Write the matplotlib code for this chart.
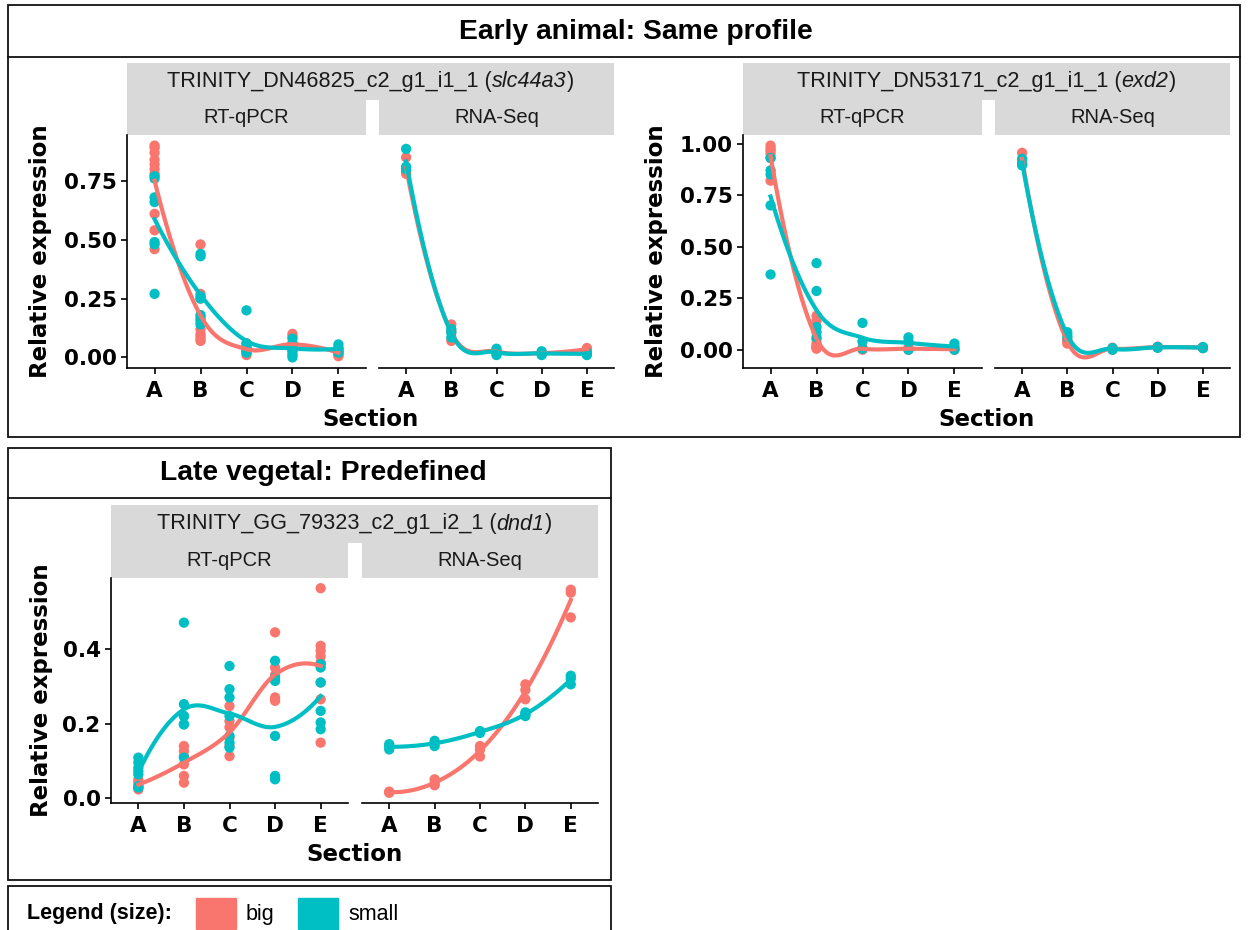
import numpy as np
import matplotlib
matplotlib.use("Agg")
import matplotlib.pyplot as plt
from matplotlib.patches import Rectangle
from matplotlib.lines import Line2D
from matplotlib.offsetbox import TextArea, HPacker, AnchoredOffsetbox

sections = ["A", "B", "C", "D", "E"]
methods = ["RT-qPCR", "RNA-Seq"]
groups = ["big", "small"]

# slc44a3 -- values per section A..E
slc_qpcr_big = [[0.90, 0.89, 0.87, 0.84, 0.82, 0.80, 0.78, 0.61, 0.54, 0.46],
                [0.48, 0.27, 0.25, 0.17, 0.15, 0.12, 0.10, 0.09, 0.08, 0.07],
                [0.06, 0.05, 0.04, 0.03, 0.02, 0.01],
                [0.10, 0.09, 0.06, 0.05, 0.04, 0.03, 0.02],
                [0.04, 0.03, 0.02, 0.015, 0.01, 0.005]]
slc_qpcr_small = [[0.77, 0.76, 0.68, 0.66, 0.49, 0.48, 0.27],
                  [0.44, 0.43, 0.26, 0.25, 0.18, 0.16, 0.14],
                  [0.20, 0.06, 0.04, 0.03, 0.02],
                  [0.08, 0.06, 0.05, 0.03, 0.01, 0.0],
                  [0.055, 0.04, 0.03, 0.02]]
slc_rna_big = [[0.85, 0.78, 0.79], [0.14, 0.07, 0.11], [0.03, 0.02, 0.025],
               [0.02, 0.015, 0.02], [0.04, 0.03, 0.035]]
slc_rna_small = [[0.886, 0.81, 0.80], [0.12, 0.105, 0.085], [0.037, 0.01, 0.02],
                 [0.026, 0.01, 0.015], [0.016, 0.01, 0.02]]

# exd2
exd_qpcr_big = [[0.99, 0.975, 0.965, 0.95, 0.93, 0.82],
                [0.165, 0.14, 0.05, 0.03, 0.02, 0.015, 0.01, 0.005],
                [0.0, 0.01, 0.005], [0.0, 0.01], [0.005, 0.0]]
exd_qpcr_small = [[0.93, 0.87, 0.85, 0.70, 0.365],
                  [0.42, 0.285, 0.11, 0.085, 0.06],
                  [0.13, 0.04, 0.005], [0.06, 0.04, 0.0], [0.03, 0.015, 0.0]]
exd_rna_big = [[0.955, 0.92, 0.90], [0.03, 0.05, 0.04], [0.005, 0.01, 0.0],
               [0.013, 0.01, 0.015], [0.01, 0.012, 0.008]]
exd_rna_small = [[0.926, 0.902, 0.894], [0.085, 0.06, 0.07], [0.008, 0.0, 0.005],
                 [0.013, 0.01, 0.012], [0.01, 0.013, 0.008]]

# dnd1
dnd_qpcr_big = [[0.042, 0.024, 0.03, 0.05],
                [0.14, 0.127, 0.113, 0.091, 0.06, 0.042],
                [0.247, 0.207, 0.19, 0.162, 0.14, 0.113],
                [0.444, 0.35, 0.33, 0.27, 0.261],
                [0.562, 0.408, 0.395, 0.38, 0.363, 0.31, 0.265, 0.149]]
dnd_qpcr_small = [[0.109, 0.096, 0.082, 0.073, 0.064, 0.033, 0.029],
                  [0.47, 0.252, 0.22, 0.22, 0.198, 0.198, 0.109],
                  [0.354, 0.292, 0.27, 0.22, 0.167, 0.149, 0.136],
                  [0.368, 0.323, 0.314, 0.167, 0.06, 0.055, 0.051],
                  [0.359, 0.35, 0.31, 0.234, 0.203, 0.185]]
dnd_rna_big = [[0.017, 0.015, 0.018], [0.051, 0.035, 0.04], [0.14, 0.112, 0.13],
               [0.305, 0.265, 0.29], [0.558, 0.55, 0.484]]
dnd_rna_small = [[0.145, 0.131, 0.138], [0.154, 0.14, 0.148], [0.178, 0.175, 0.18],
                 [0.225, 0.22, 0.23], [0.328, 0.305, 0.32]]

slc_ticks = [0.0, 0.25, 0.5, 0.75]
exd_ticks = [0.0, 0.25, 0.5, 0.75, 1.0]
dnd_ticks = [0.0, 0.2, 0.4]

RED = "#F8766D"
TEAL = "#00BFC4"
W, H = 1248, 930
TICK_FONT = dict(family="DejaVu Sans", weight="bold", size=15.5)
GENE_FONT = dict(family="Liberation Sans", size=15.6, color="#1A1A1A")
STRIP_FONT = dict(family="Liberation Sans", size=14.5, color="#1A1A1A")


def local_fit(x, y, x0, q):
    # local quadratic fit with tricube weights, returns value and slope at x0
    d = np.abs(x - x0)
    h = np.sort(d)[q - 1] * 1.001
    w = np.clip(1 - (d / h) ** 3, 0, None) ** 3
    A = np.vstack([np.ones(len(x)), x - x0, (x - x0) ** 2]).T
    sw = np.sqrt(w)
    coef = np.linalg.lstsq(A * sw[:, None], y * sw, rcond=None)[0]
    return coef[0], coef[1]


def loess(x, y, grid, span=0.75):
    # fit at the section vertices, cubic Hermite interpolation in between
    q = int(np.floor(len(x) * span))
    verts = np.arange(1, 6, dtype=float)
    fits = np.array([local_fit(x, y, v, q) for v in verts])
    out = []
    for g in grid:
        i = min(int(np.floor(g - 1)), len(verts) - 2)
        t = g - verts[i]
        p0, m0 = fits[i]
        p1, m1 = fits[i + 1]
        out.append((2 * t**3 - 3 * t**2 + 1) * p0 + (t**3 - 2 * t**2 + t) * m0
                   + (-2 * t**3 + 3 * t**2) * p1 + (t**3 - t**2) * m1)
    return np.array(out)


def px_axes(fig, x0, y0, x1, y1):
    return fig.add_axes([x0 / W, 1 - y1 / H, (x1 - x0) / W, (y1 - y0) / H])


def strip(fig, x0, y0, x1, y1, label, italic=None):
    ax = px_axes(fig, x0, y0, x1, y1)
    ax.set_facecolor("#D9D9D9")
    ax.set_xticks([])
    ax.set_yticks([])
    for s in ax.spines.values():
        s.set_visible(False)
    if italic is None:
        ax.text(0.5, 0.5, label, ha="center", va="center", transform=ax.transAxes,
                **STRIP_FONT)
        return
    parts = [TextArea(label + " (", textprops=GENE_FONT),
             TextArea(italic, textprops=dict(style="italic", **GENE_FONT)),
             TextArea(")", textprops=GENE_FONT)]
    pack = HPacker(children=parts, align="baseline", pad=0, sep=0)
    ab = AnchoredOffsetbox(loc="center", child=pack, frameon=False, pad=0, borderpad=0,
                           bbox_to_anchor=(0.5, 0.5), bbox_transform=ax.transAxes)
    ax.add_artist(ab)


def draw_panel(ax, big, small):
    lines = []
    for vals, col in ((big, RED), (small, TEAL)):
        x = np.concatenate([[i + 1] * len(v) for i, v in enumerate(vals)]).astype(float)
        y = np.concatenate(vals)
        ax.scatter(x, y, s=55, color=col, edgecolors="none", zorder=2)
        grid = np.linspace(1, 5, 80)
        lines.append((grid, loess(x, y, grid), col))
    for gx, gy, col in lines:
        ax.plot(gx, gy, color=col, lw=3, zorder=3)
    ax.set_xlim(0.4, 5.6)
    ax.set_xticks(range(1, 6))
    ax.set_xticklabels(sections, **TICK_FONT)
    for s in ("top", "right"):
        ax.spines[s].set_visible(False)
    for s in ("left", "bottom"):
        ax.spines[s].set_linewidth(1.2)
    ax.tick_params(length=4, width=1.2, color="black", pad=3.5)
    ax.tick_params(axis="x", pad=5)
    ax.set_facecolor("white")


def gene_block(fig, x0, gap_l, gap_r, x1, ys, yaxis_x, gene, italic, data, ticks, fmt):
    s0, s1, s2, a1 = ys
    strip(fig, x0, s0, x1, s1, gene, italic)
    strip(fig, x0, s1, gap_l, s2, methods[0])
    strip(fig, gap_r, s1, x1, s2, methods[1])
    ax1 = px_axes(fig, x0, s2, gap_l, a1)
    ax2 = px_axes(fig, gap_r, s2, x1, a1)
    ax2.sharey(ax1)
    draw_panel(ax1, data[0], data[1])
    draw_panel(ax2, data[2], data[3])
    ax1.set_yticks(ticks)
    ax1.set_yticklabels([fmt % t for t in ticks], **TICK_FONT)
    ax2.spines["left"].set_visible(False)
    ax2.tick_params(axis="y", left=False, labelleft=False)
    ax1.margins(y=0.05)
    fig.text((x0 + x1) / 2 / W, 1 - (a1 + 51) / H, "Section", ha="center", va="center",
             family="DejaVu Sans", weight="bold", size=16.5)
    fig.text(yaxis_x / W, 1 - (s2 + a1) / 2 / H, "Relative expression", ha="center",
             va="center", rotation=90, family="DejaVu Sans", weight="bold", size=16.5)


fig = plt.figure(figsize=(W / 100, H / 100), dpi=100)


def box(x0, y0, x1, y1):
    fig.patches.append(Rectangle((x0 / W, 1 - y1 / H), (x1 - x0) / W, (y1 - y0) / H,
                                 transform=fig.transFigure, fill=False, lw=1.3,
                                 edgecolor="#111111", zorder=0))


def hline(x0, x1, y):
    fig.lines.append(Line2D([x0 / W, x1 / W], [1 - y / H, 1 - y / H],
                            transform=fig.transFigure, color="#111111", lw=1.3))


# top block
box(8, 5, 1240, 437)
hline(8, 1240, 57)
fig.text(636 / W, 1 - 32 / H, "Early animal: Same profile", ha="center", va="center",
         family="Liberation Sans", weight="bold", size=20.3)
gene_block(fig, 127, 366, 379, 614, (63, 100, 135, 368), 41,
           "TRINITY_DN46825_c2_g1_i1_1", "slc44a3",
           (slc_qpcr_big, slc_qpcr_small, slc_rna_big, slc_rna_small), slc_ticks, "%.2f")
gene_block(fig, 743, 982, 995, 1230, (63, 100, 135, 368), 656,
           "TRINITY_DN53171_c2_g1_i1_1", "exd2",
           (exd_qpcr_big, exd_qpcr_small, exd_rna_big, exd_rna_small), exd_ticks, "%.2f")

# bottom block
box(8, 448, 611, 880)
hline(8, 611, 498)
fig.text(323 / W, 1 - 473 / H, "Late vegetal: Predefined", ha="center", va="center",
         family="Liberation Sans", weight="bold", size=20.3)
gene_block(fig, 111, 348, 362, 598, (505, 543, 578, 803), 42,
           "TRINITY_GG_79323_c2_g1_i2_1", "dnd1",
           (dnd_qpcr_big, dnd_qpcr_small, dnd_rna_big, dnd_rna_small), dnd_ticks, "%.1f")

# legend
box(8, 886, 611, 960)
fig.text(27 / W, 1 - 913 / H, "Legend (size):", ha="left", va="center",
         family="Liberation Sans", weight="bold", size=15.5)
for (lx, tx), lab, col in zip(((196, 246), (298, 348)), groups, (RED, TEAL)):
    fig.patches.append(Rectangle((lx / W, 1 - 929 / H), 40 / W, 31 / H,
                                 transform=fig.transFigure, color=col))
    fig.text(tx / W, 1 - 914 / H, lab, ha="left", va="center",
             family="Liberation Sans", size=15.5)

fig.savefig("out.png", dpi=100)
